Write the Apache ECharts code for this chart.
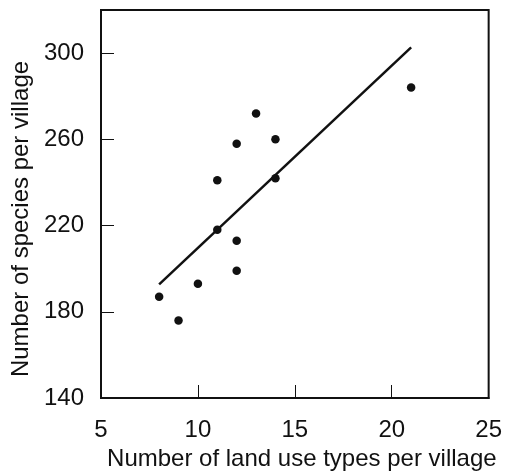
<!DOCTYPE html>
<html>
<head>
<meta charset="utf-8">
<script src="https://cdn.jsdelivr.net/npm/echarts@6/dist/echarts.min.js"></script>
<style>
  html, body { margin: 0; padding: 0; background: #fff; }
  #chart { width: 505px; height: 476px; }
</style>
</head>
<body>
<div id="chart"></div>
<script>
// Land use types per village (x) against species count per village (y)
const landUseTypes = [8, 9, 10, 11, 11, 12, 12, 12, 13, 14, 14, 21];
const speciesCounts = [187, 176, 193, 218, 241, 258, 213, 199, 272, 260, 242, 284];

// Endpoints of the fitted trend line
const fitX = [8, 21];
const fitY = [192.7, 302.7];

const xTicks = [5, 10, 15, 20, 25];
const yTicks = [140, 180, 220, 260, 300];

const points = landUseTypes.map((x, i) => [x, speciesCounts[i]]);
const fitLine = fitX.map((x, i) => [x, fitY[i]]);

const font = 'Liberation Sans, Arial, sans-serif';
const ink = '#111';
const fs = 24;

const chart = echarts.init(document.getElementById('chart'), null, { renderer: 'canvas' });
chart.setOption({
  animation: false,
  backgroundColor: '#fff',
  grid: {
    left: 101, right: 16, top: 10, bottom: 77,
    show: true, borderColor: ink, borderWidth: 2, backgroundColor: 'transparent'
  },
  xAxis: {
    type: 'value',
    min: xTicks[0], max: xTicks[xTicks.length - 1], interval: 5,
    name: 'Number of land use types per village',
    nameLocation: 'middle', nameGap: 49,
    nameTextStyle: { fontFamily: font, fontSize: fs, color: ink, padding: [0, 0, 0, 14] },
    axisLine: { show: true, lineStyle: { color: ink, width: 2 } },
    axisTick: { show: true, inside: true, length: 13, lineStyle: { color: ink, width: 1 } },
    axisLabel: { fontFamily: font, fontSize: fs, color: ink, margin: 20 },
    splitLine: { show: false }
  },
  yAxis: {
    type: 'value',
    min: yTicks[0], max: 320, interval: 40,
    name: 'Number of species per village',
    nameLocation: 'middle', nameGap: 60,
    nameTextStyle: { fontFamily: font, fontSize: fs, color: ink, padding: [0, 30, 0, 0] },
    axisLine: { show: true, lineStyle: { color: ink, width: 2 } },
    axisTick: { show: true, inside: true, length: 13, lineStyle: { color: ink, width: 1 } },
    axisLabel: {
      fontFamily: font, fontSize: fs, color: ink, margin: 17,
      showMaxLabel: false,
      formatter: v => (yTicks.indexOf(v) >= 0 ? String(v) : '')
    },
    splitLine: { show: false }
  },
  series: [
    {
      type: 'scatter',
      data: points,
      symbol: 'circle',
      symbolSize: 8.5,
      itemStyle: { color: ink, opacity: 1 }
    },
    {
      type: 'line',
      data: fitLine,
      showSymbol: false,
      lineStyle: { color: ink, width: 2.5 }
    }
  ]
});
</script>
</body>
</html>
